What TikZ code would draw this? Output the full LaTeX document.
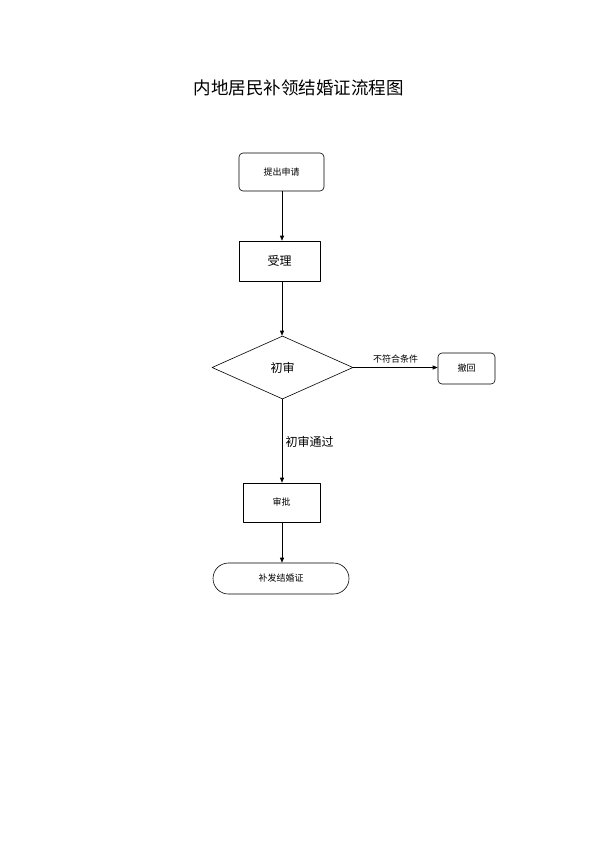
\documentclass[tikz,border=0pt]{standalone}
\usepackage{fontspec}
\setmainfont{Noto Sans CJK SC}
\usetikzlibrary{shapes.geometric,arrows.meta}
\tikzset{
  flowbox/.style={draw,line width=0.6pt,inner sep=0pt,font=\fontsize{9}{9}\selectfont},
  roundbox/.style={flowbox,rounded corners=4pt},
  flowarrow/.style={line width=0.6pt,-{Triangle[length=5pt,width=4pt]}}
}
\begin{document}
\begin{tikzpicture}[x=1pt,y=-1pt,line cap=round,line join=round]
  \useasboundingbox (0,0) rectangle (595,841);
  \node[font=\fontsize{17.5}{17.5}\selectfont] (title) at (298.5,88) {内地居民补领结婚证流程图};
  \node[roundbox,minimum width=85pt,minimum height=38pt] (apply) at (281.5,172) {提出申请};
  \node[flowbox,minimum width=81pt,minimum height=40pt,font=\fontsize{12}{12}\selectfont] (accept) at (279.5,261) {受理};
  \node[flowbox,diamond,aspect=2.24,minimum width=141pt,minimum height=63pt,font=\fontsize{12}{12}\selectfont] (check) at (282.5,367.5) {初审};
  \node[roundbox,minimum width=57pt,minimum height=31pt] (withdraw) at (466.5,368.5) {撤回};
  \node[flowbox,minimum width=77pt,minimum height=39pt] (approve) at (281.5,502.5) {审批};
  \node[flowbox,rounded corners=15.5pt,minimum width=136pt,minimum height=31pt] (issue) at (281,578.5) {补发结婚证};
  % main column
  \coordinate (col) at (282,0);
  \draw[flowarrow] (col |- apply.south) -- (col |- accept.north);
  \draw[flowarrow] (col |- accept.south) -- (col |- check.north);
  \draw[flowarrow] (check.east) -- node[above,font=\fontsize{9}{9}\selectfont,yshift=1pt] (fail) {不符合条件} (check.east -| withdraw.west);
  \draw[flowarrow] (col |- check.south) -- node[right,font=\fontsize{12}{12}\selectfont,yshift=-1pt] (pass) {初审通过} (col |- approve.north);
  \draw[flowarrow] (col |- approve.south) -- (col |- issue.north);
\end{tikzpicture}
\end{document}
